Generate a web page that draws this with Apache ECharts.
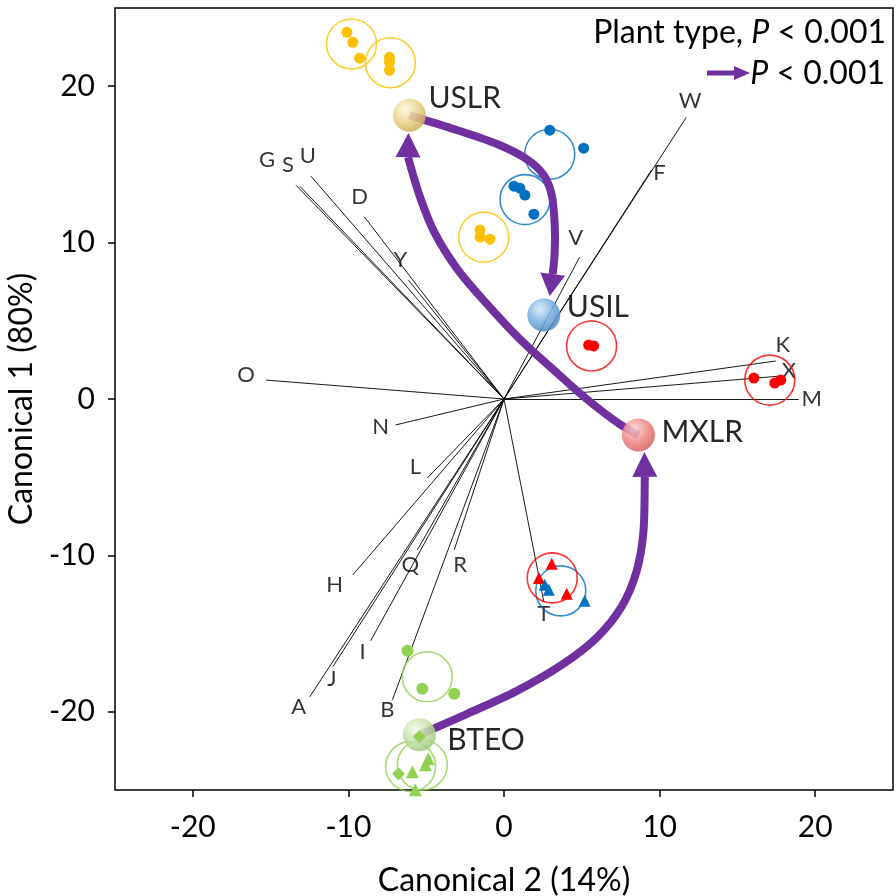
<!DOCTYPE html>
<html><head><meta charset="utf-8">
<script src="https://cdn.jsdelivr.net/npm/echarts@6/dist/echarts.min.js"></script>
<style>html,body{margin:0;padding:0;background:#fff}#c{width:896px;height:896px}</style>
</head><body><div id="c"></div>
<script>
// ---- data ----
const xTicks = [-20, -10, 0, 10, 20];
const yTicks = [-20, -10, 0, 10, 20];

const vectorNames = ['W','F','V','K','X','M','O','G','S','U','D','Y','N','L','H','Q','R','I','J','A','B','T'];
const vectorX = [11.71, 9.47, 4.86, 17.47, 17.79, 18.94, -15.3, -13.37, -13.12, -12.41, -8.96, -6.14, -6.97, -4.93, -9.72, -5.57, -3.20, -8.57, -11.0, -12.48, -7.17, 2.56];
const vectorY = [18.0, 14.63, 9.07, 2.43, 1.47, 0.0, 1.21, 13.67, 13.6, 14.25, 11.63, 7.6, -1.66, -5.05, -11.25, -9.65, -9.65, -15.46, -17.12, -19.04, -19.23, -12.97];

const yellowDotX = [-10.1, -9.72, -9.28, -7.36, -7.36, -7.36, -1.54, -1.54, -0.9];
const yellowDotY = [23.45, 22.81, 21.79, 21.85, 21.53, 21.02, 10.8, 10.35, 10.22];
const blueDotX = [2.94, 5.12, 0.64, 1.02, 1.34, 1.92];
const blueDotY = [17.19, 16.04, 13.61, 13.48, 13.04, 11.82];
const redDotX = [5.44, 5.76, 16.06, 17.4, 17.79];
const redDotY = [3.45, 3.39, 1.34, 1.02, 1.21];
const redTriX = [3.07, 2.24, 4.03];
const redTriY = [-10.54, -11.44, -12.46];
const blueTriX = [2.62, 2.88, 5.18];
const blueTriY = [-11.88, -12.2, -12.9];
const greenDotX = [-6.2, -5.25, -3.2];
const greenDotY = [-16.1, -18.53, -18.85];
const greenDiaX = [-5.44, -6.78];
const greenDiaY = [-21.6, -23.96];
const greenTriX = [-4.86, -5.05, -5.89, -5.7];
const greenTriY = [-23.0, -23.39, -23.83, -24.98];

const yellowRingX = [-9.8, -7.3, -1.3];
const yellowRingY = [22.7, 21.5, 10.35];
const blueRingX = [2.94, 1.35, 3.65];
const blueRingY = [15.65, 12.75, -12.27];
const redRingX = [5.63, 17.08, 3.1];
const redRingY = [3.39, 1.21, -11.44];
const greenRingX = [-4.93, -6.0, -5.25];
const greenRingY = [-17.76, -23.5, -23.4];

const centroidNames = ['USLR', 'USIL', 'MXLR', 'BTEO'];
const centroidX = [-6.08, 2.56, 8.64, -5.44];
const centroidY = [18.15, 5.37, -2.3, -21.47];

// arrow paths (USLR->USIL, MXLR->USLR, BTEO->MXLR), ending at arrowhead base
const arrow1X = [-6.08, -3.2, -0.45, 1.47, 2.56, 3.07, 3.26, 3.26, 3.13];
const arrow1Y = [18.15, 17.25, 16.3, 15.33, 14.31, 13.03, 11.12, 9.39, 7.99];
const arrow2X = [8.64, 7.42, 5.31, 3.2, 1.02, -1.09, -3.0, -4.48, -5.44, -6.17];
const arrow2Y = [-2.3, -1.6, 0, 1.85, 3.83, 6.07, 8.31, 10.67, 13.04, 15.46];
const arrow3X = [-5.44, -2.37, 0.83, 3.71, 5.95, 7.55, 8.51, 8.96, 9.05];
const arrow3Y = [-21.47, -20.13, -18.66, -17.0, -15.27, -13.29, -11.05, -8.5, -4.98];
const arrowTipX = [2.94, -6.14, 9.02];
const arrowTipY = [6.58, 17.0, -3.39];

// ---- styles ----
const FONT = 'Lato';
const labelOffsets = {W:[4,-17],F:[8,3],V:[-4,-19],K:[7,-16],X:[8,-5],M:[13,0],O:[-20,-5],G:[-29,-25],S:[-12,-21],U:[-3,-20],D:[-5,-20],Y:[-8,-20],N:[-15,2],L:[-12,-11],H:[-18,10],Q:[-7,15],R:[6,15],I:[-8,11],J:[-1,12],A:[-11,10],B:[-5,10],T:[0,12]};
const centroidLabelOffsets = [[19,-17],[23,-8],[23,-3],[28,6]];
const sphereColors = [
  ['#FFF9DE', '#E9D184', '#C8A650'],
  ['#D3E8F8', '#72AADD', '#4A84BA'],
  ['#FCD6D6', '#F08282', '#CF5959'],
  ['#F3FAEA', '#C0E0A2', '#98C276']
];
const PURPLE = '#7030A0';
const HEAD_HALF_W = 12.5;

const zip = (xs, ys) => xs.map((x, i) => [x, ys[i]]);
const arrowPaths = [zip(arrow1X, arrow1Y), zip(arrow2X, arrow2Y), zip(arrow3X, arrow3Y)];

function ringSeries(xs, ys, color) {
  return { type: 'scatter', data: zip(xs, ys), symbol: 'circle', symbolSize: 50, silent: true, z: 3,
    itemStyle: { color: 'rgba(0,0,0,0)', borderColor: color, borderWidth: 1.6 } };
}
function ptSeries(xs, ys, color, symbol, size, z) {
  return { type: 'scatter', data: zip(xs, ys), symbol: symbol, symbolSize: size, silent: true, z: z || 4,
    itemStyle: { color: color, opacity: 1 } };
}

function renderArrow(params, api) {
  const k = params.dataIndex;
  const pts = arrowPaths[k].map(p => api.coord(p));
  const n = pts.length;
  let d = 'M' + pts[0][0] + ' ' + pts[0][1];
  for (let i = 0; i < n - 1; i++) {
    const p0 = pts[Math.max(i - 1, 0)], p1 = pts[i], p2 = pts[i + 1], p3 = pts[Math.min(i + 2, n - 1)];
    const c1 = [p1[0] + (p2[0] - p0[0]) / 6, p1[1] + (p2[1] - p0[1]) / 6];
    const c2 = [p2[0] - (p3[0] - p1[0]) / 6, p2[1] - (p3[1] - p1[1]) / 6];
    d += ' C' + c1[0] + ' ' + c1[1] + ' ' + c2[0] + ' ' + c2[1] + ' ' + p2[0] + ' ' + p2[1];
  }
  const base = pts[n - 1];
  const tip = api.coord([arrowTipX[k], arrowTipY[k]]);
  const dx = tip[0] - base[0], dy = tip[1] - base[1];
  const len = Math.sqrt(dx * dx + dy * dy) || 1;
  const px = -dy / len * HEAD_HALF_W, py = dx / len * HEAD_HALF_W;
  return {
    type: 'group',
    children: [
      { type: 'path', shape: { pathData: d }, style: { stroke: PURPLE, lineWidth: 8, fill: null } },
      { type: 'polygon', shape: { points: [tip, [base[0] + px, base[1] + py], [base[0] - px, base[1] - py]] }, style: { fill: PURPLE } }
    ]
  };
}

const option = {
  animation: false,
  backgroundColor: '#fff',
  grid: { left: 115, right: 3, top: 8, bottom: 106, outerBoundsMode: 'none', containLabel: false,
    show: true, borderColor: '#000', borderWidth: 1.5, backgroundColor: 'rgba(0,0,0,0)' },
  xAxis: {
    type: 'value', min: -25, max: 25,
    name: 'Canonical 2 (14%)', nameLocation: 'middle', nameGap: 75,
    nameTextStyle: { fontFamily: FONT, fontSize: 32, color: '#000' },
    axisLine: { show: false, onZero: false },
    axisTick: { show: true, inside: false, length: 7, customValues: xTicks, lineStyle: { color: '#000', width: 1.5 } },
    axisLabel: { customValues: xTicks, fontFamily: FONT, fontSize: 30, color: '#000', margin: 22 },
    splitLine: { show: false }
  },
  yAxis: {
    type: 'value', min: -25, max: 25,
    name: 'Canonical 1 (80%)', nameLocation: 'middle', nameGap: 68, nameRotate: 90,
    nameTextStyle: { fontFamily: FONT, fontSize: 32, color: '#000' },
    axisLine: { show: false, onZero: false },
    axisTick: { show: true, inside: false, length: 7, customValues: yTicks, lineStyle: { color: '#000', width: 1.5 } },
    axisLabel: { customValues: yTicks, fontFamily: FONT, fontSize: 30, color: '#000', margin: 20 },
    splitLine: { show: false }
  },
  series: [
    { type: 'lines', coordinateSystem: 'cartesian2d', silent: true, z: 1,
      data: vectorNames.map((n, i) => ({ coords: [[0, 0], [vectorX[i], vectorY[i]]] })),
      lineStyle: { color: '#000', width: 1, opacity: 0.9 } },
    { type: 'scatter', silent: true, z: 2, symbolSize: 0,
      data: vectorNames.map((n, i) => ({ name: n, value: [vectorX[i], vectorY[i]],
        label: { offset: labelOffsets[n] } })),
      label: { show: true, position: 'inside', formatter: '{b}', fontFamily: FONT, fontSize: 22, color: '#000', align: 'center', verticalAlign: 'middle' } },
    ringSeries(yellowRingX, yellowRingY, '#FFC000'),
    ringSeries(blueRingX, blueRingY, '#0070C0'),
    ringSeries(redRingX, redRingY, '#FF0000'),
    ringSeries(greenRingX, greenRingY, '#92D050'),
    ptSeries(yellowDotX, yellowDotY, '#FFC000', 'circle', 11),
    ptSeries(blueDotX, blueDotY, '#0070C0', 'circle', 11),
    ptSeries(redDotX, redDotY, '#FF0000', 'circle', 11),
    ptSeries(redTriX, redTriY, '#FF0000', 'triangle', 12),
    ptSeries(blueTriX, blueTriY, '#0070C0', 'triangle', 12),
    ptSeries(greenDotX, greenDotY, '#92D050', 'circle', 12),
    ptSeries(greenTriX, greenTriY, '#92D050', 'triangle', 13),
    { type: 'custom', coordinateSystem: 'cartesian2d', silent: true, z: 5,
      data: arrowPaths.map((p, i) => [arrowTipX[i], arrowTipY[i]]),
      renderItem: renderArrow },
    { type: 'scatter', silent: true, z: 7, symbol: 'circle', symbolSize: 33,
      data: centroidNames.map((n, i) => ({
        name: n, value: [centroidX[i], centroidY[i]],
        itemStyle: { opacity: 0.85, color: { type: 'radial', x: 0.38, y: 0.32, r: 0.75,
          colorStops: [ { offset: 0, color: sphereColors[i][0] }, { offset: 0.55, color: sphereColors[i][1] }, { offset: 1, color: sphereColors[i][2] } ] } },
        label: { offset: centroidLabelOffsets[i] }
      })),
      label: { show: true, position: 'inside', formatter: '{b}', align: 'left', verticalAlign: 'middle', fontFamily: FONT, fontSize: 30, color: '#000' } },
    ptSeries(greenDiaX, greenDiaY, '#92D050', 'diamond', 13, 8)
  ],
  graphic: [
    { type: 'text', right: 10, top: 17, z: 10,
      style: { text: 'Plant type, {i|P} < 0.001', font: '32px Lato', fill: '#000',
        rich: { i: { fontStyle: 'italic', fontFamily: FONT, fontSize: 32 } } } },
    { type: 'text', right: 11, top: 58, z: 10,
      style: { text: '{i|P} < 0.001', font: '32px Lato', fill: '#000',
        rich: { i: { fontStyle: 'italic', fontFamily: FONT, fontSize: 32 } } } },
    { type: 'line', z: 10, shape: { x1: 707, y1: 73, x2: 736, y2: 73 }, style: { stroke: PURPLE, lineWidth: 5 } },
    { type: 'polygon', z: 10, shape: { points: [[734, 66], [750, 73], [734, 80]] }, style: { fill: PURPLE } }
  ]
};

const chart = echarts.init(document.getElementById('c'), null, { renderer: 'canvas' });
chart.setOption(option);
</script>
</body></html>
